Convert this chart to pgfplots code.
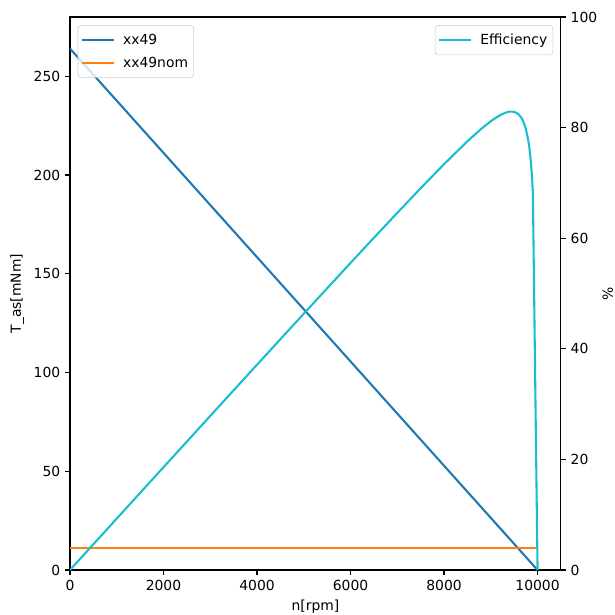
\documentclass[border=0pt]{standalone}
\usepackage{fontspec}
\setmainfont{DejaVu Sans}
\usepackage{pgfplots}
\pgfplotsset{compat=1.18}
\definecolor{mplblue}{HTML}{1F77B4}
\definecolor{mplorange}{HTML}{FF7F0E}
\definecolor{mplcyan}{HTML}{17BECF}
\pgfplotsset{legend image code/.code={\draw[#1] (0pt,0pt) -- (23pt,0pt); \path (27pt,0pt);}}
\pgfplotsset{
  mystyle/.style={
    width=353.5pt, height=398.2pt, scale only axis,
    xmin=0, xmax=10500,
    tick align=outside, major tick length=3.5pt,
    every tick/.style={black, line width=0.8pt},
    axis line style={line width=0.8pt},
    /pgf/number format/assume math mode=true,
    /pgf/number format/1000 sep={},
    scaled ticks=false,
    tick label style={font=\fontsize{10}{12}\selectfont},
    label style={font=\fontsize{10}{12}\selectfont},
    legend style={font=\fontsize{10}{12}\selectfont, draw=black!20, rounded corners=2pt, fill=white, fill opacity=0.8, text opacity=1, draw opacity=1, inner xsep=2pt, inner ysep=4pt, row sep=3.5pt},
    legend cell align=left,
  }
}
\begin{document}
\begin{tikzpicture}
\begin{axis}[mystyle, name=ax, ymin=0, ymax=280,
  xtick={0,2000,...,10000}, ytick={0,50,...,250},
  xtick pos=bottom, ytick pos=left,
  xlabel={n[rpm]}, ylabel={T\_as[mNm]},
  legend style={at={(0.0157,0.985)}, anchor=north west}]
\addplot[mplblue, line width=1.5pt] coordinates {(0,264) (10000,0)};
\addlegendentry{xx49}
\addplot[mplorange, line width=1.5pt] coordinates {(0,11.3) (10000,11.3)};
\addlegendentry{xx49nom}
\end{axis}
\begin{axis}[mystyle, ymin=0, ymax=100,
  axis y line*=right, axis x line=none,
  ytick={0,20,...,100}, ylabel={\%}, ylabel shift=-3pt,
  legend style={at={(0.984,0.985)}, anchor=north east}]
\addplot[mplcyan, line width=1.5pt, line join=round] coordinates {
(0,0) (500,4.650) (1000,9.299) (1500,13.944) (2000,18.588) (2500,23.228)
(3000,27.864) (3500,32.496) (4000,37.122) (4500,41.740) (5000,46.348)
(5500,50.943) (6000,55.520) (6500,60.072) (7000,64.585) (7500,69.038)
(8000,73.385) (8500,77.524) (8800,79.800) (9000,81.150) (9100,81.73) (9200,82.253)
(9300,82.647) (9350,82.787) (9400,82.873) (9450,82.896) (9500,82.835)
(9550,82.664) (9600,82.348) (9650,81.830) (9700,81.017) (9750,79.755)
(9800,77.759) (9825,76.35) (9850,74.43) (9875,71.85) (9900,68.305) (10000,0)};
\addlegendentry{Efficiency}
\end{axis}
\pgfresetboundingbox
\path[use as bounding box] ([xshift=-50.4pt,yshift=-32.4pt]ax.south west) rectangle ([xshift=38.9pt,yshift=12.24pt]ax.north east);
\end{tikzpicture}
\end{document}
